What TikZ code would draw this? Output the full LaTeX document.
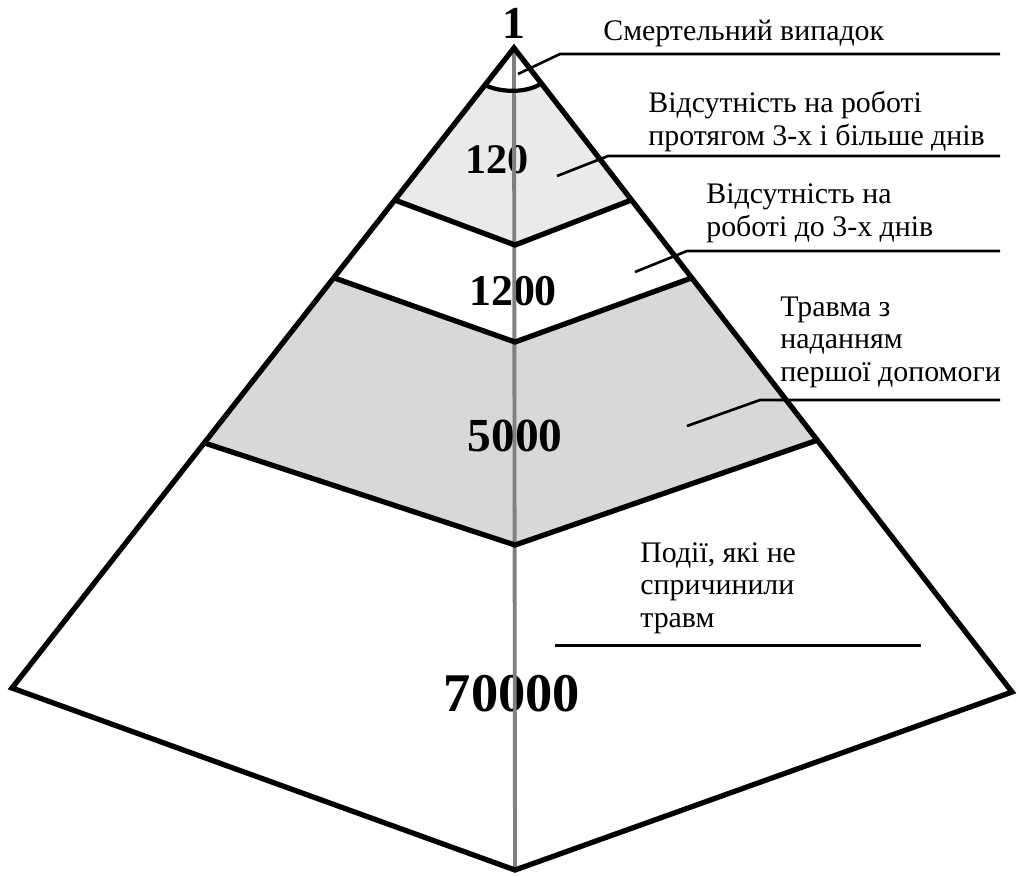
\documentclass[tikz,border=0pt]{standalone}
\usepackage{fontspec}
\setmainfont{Liberation Serif}
\usetikzlibrary{calc}
\definecolor{lightfill}{RGB}{234,234,234}
\definecolor{midfill}{RGB}{216,216,216}
\definecolor{axisgrey}{RGB}{128,128,128}
\tikzset{
  edge/.style={line width=3pt, line join=miter, black},
  divider/.style={line width=3pt, line join=miter, black},
  axis/.style={line width=2.2pt, axisgrey},
  leader/.style={line width=1.5pt, black},
  num/.style={font=\bfseries\fontsize{#1}{#1}\selectfont, inner sep=0pt},
  lbl/.style={font=\fontsize{17}{18.3}\selectfont, align=left, anchor=base west, inner sep=0pt}
}
\begin{document}
\begin{tikzpicture}[x=0.02cm, y=-0.02cm]
\useasboundingbox (0,0) rectangle (1020,876);
% pyramid corners
\coordinate (A) at (514,48);
\coordinate (L) at (12,688);
\coordinate (R) at (1012,692);
\coordinate (B) at (515,870);
% divider points
\coordinate (c1l) at ($(A)!0.058!(L)$);
\coordinate (c1r) at ($(A)!0.055!(R)$);
\coordinate (c1m) at (515,92);
\coordinate (c2l) at ($(A)!0.2375!(L)$);
\coordinate (c2r) at ($(A)!0.236!(R)$);
\coordinate (c2m) at (515,245);
\coordinate (c3l) at ($(A)!0.359!(L)$);
\coordinate (c3r) at ($(A)!0.357!(R)$);
\coordinate (c3m) at (515,342);
\coordinate (c4l) at ($(A)!0.617!(L)$);
\coordinate (c4r) at ($(A)!0.609!(R)$);
\coordinate (c4m) at (515,545);
% fills
\fill[lightfill] (c1l) .. controls (502,93) and (527,93) .. (c1r) -- (c2r) -- (c2m) -- (c2l) -- cycle;
\fill[midfill] (c3l) -- (c3m) -- (c3r) -- (c4r) -- (c4m) -- (c4l) -- cycle;
% numbers
\node[num=26] (n1) at (514,23) {1};
\node[num=24] (n120) at (497,160) {120};
\node[num=25] (n1200) at (513,291) {1200};
\node[num=27] (n5000) at (515,436) {5000};
\node[num=31] (n70000) at (512,694) {70000};
% axis
\draw[axis] (A) -- (B);
% outline and dividers
\draw[edge] (A) -- (L) -- (B) -- (R) -- cycle;
\draw[line width=2.4pt] (c1l) .. controls (502,93) and (527,93) .. (c1r);
\draw[divider] (c2l) -- (c2m) -- (c2r);
\draw[divider] (c3l) -- (c3m) -- (c3r);
\draw[divider] (c4l) -- (c4m) -- (c4r);
% labels (base anchor = baseline of the last line)
\node[lbl] (t1) at (603,40) {Смертельний випадок};
\node[lbl] (t2) at (648,145) {Відсутність на роботі\\протягом 3-х і більше днів};
\node[lbl] (t3) at (706,236) {Відсутність на\\роботі до 3-х днів};
\node[lbl] (t4) at (780,381) {Травма з\\наданням\\першої допомоги};
\node[lbl] (t5) at (640,627) {Події, які не\\спричинили\\травм};
% leaders
\coordinate (p1a) at (518,74); \coordinate (p1b) at (560,54); \coordinate (p1c) at (1000,54);
\coordinate (p2a) at (557,176); \coordinate (p2b) at (608,156); \coordinate (p2c) at (1000,156);
\coordinate (p3a) at (635,272); \coordinate (p3b) at (687,251); \coordinate (p3c) at (1000,251);
\coordinate (p4a) at (687,426); \coordinate (p4b) at (760,400); \coordinate (p4c) at (1000,400);
\coordinate (p5a) at (555,645); \coordinate (p5b) at (921,645);
\draw[leader] (p1a) -- (p1b) -- (p1c);
\draw[leader] (p2a) -- (p2b) -- (p2c);
\draw[leader] (p3a) -- (p3b) -- (p3c);
\draw[leader] (p4a) -- (p4b) -- (p4c);
\draw[leader, line width=1.7pt] (p5a) -- (p5b);
\end{tikzpicture}
\end{document}
